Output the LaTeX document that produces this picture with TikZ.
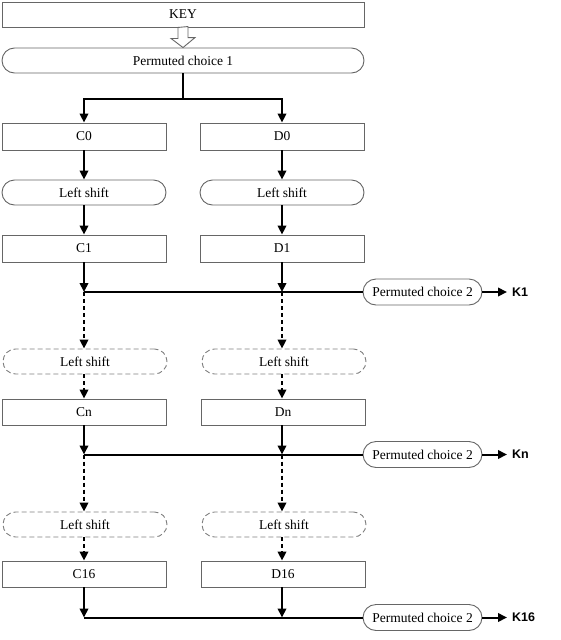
\documentclass[tikz,border=0pt]{standalone}
\usepackage{fontspec}
\setmainfont{Liberation Serif}
\newfontfamily\ksans{Liberation Sans}
\usetikzlibrary{arrows.meta}
\definecolor{boxgray}{HTML}{666666}
\definecolor{dashgray}{HTML}{808080}
\begin{document}
\begin{tikzpicture}[x=1pt,y=-1pt,
  box/.style={draw=boxgray, line width=0.9pt, fill=white, minimum width=164pt,
    minimum height=26pt, inner sep=0pt, font=\fontsize{13.5}{16}\selectfont},
  pill/.style={box, rounded corners=12.5pt},
  dpill/.style={pill, draw=dashgray, dash pattern=on 5pt off 3pt},
  pcb/.style={pill, minimum width=119pt, rounded corners=13pt},
  arr/.style={line width=2pt, -{Triangle[length=9pt,width=8.5pt]}},
  darr/.style={arr, dash pattern=on 4pt off 3pt},
  bus/.style={line width=2pt},
  hollow/.style={draw=boxgray, line width=0.9pt, fill=white, line join=miter},
  klab/.style={font=\ksans\bfseries\fontsize{12.5}{15}\selectfont, anchor=west,
    inner xsep=5pt, inner ysep=0pt}
]
\useasboundingbox (0,0) rectangle (561,640);

% top
\node[box, minimum width=362pt, minimum height=25pt] (key) at (183,14.5) {KEY};
\node[pill, minimum width=362pt, minimum height=25pt] (pc1) at (183,60.5) {Permuted choice 1};
\draw[hollow] (key.south) ++(-5,0) -- ++(0,11) -- ++(-7,0) -- (pc1.north)
  -- ++(12,-10) -- ++(-7,0) -- ++(0,-11) -- cycle;

% C / D column
\node[box, minimum height=27pt] (c0) at (84,136.5) {C0};
\node[box, minimum height=27pt] (d0) at (282,136.5) {D0};
\node[pill, minimum height=25pt] (ls1c) at (84,192.5) {Left shift};
\node[pill, minimum height=25pt] (ls1d) at (282,192.5) {Left shift};
\node[box, minimum height=27pt] (c1) at (84,248.5) {C1};
\node[box, minimum height=27pt] (d1) at (282,248.5) {D1};

\node[dpill, minimum height=25pt] (ls2c) at (85,361.5) {Left shift};
\node[dpill, minimum height=25pt] (ls2d) at (284,361.5) {Left shift};
\node[box] (cn) at (84,412) {Cn};
\node[box] (dn) at (283,412) {Dn};

\node[dpill, minimum height=25pt] (ls3c) at (85,524.5) {Left shift};
\node[dpill, minimum height=25pt] (ls3d) at (284,524.5) {Left shift};
\node[box] (c16) at (84,574) {C16};
\node[box] (d16) at (283,574) {D16};

% permuted choice 2 nodes
\node[pcb] (pa) at (422.5,292) {Permuted choice 2};
\node[pcb] (pb) at (422.5,454.5) {Permuted choice 2};
\node[pcb] (pc) at (422.5,617.5) {Permuted choice 2};
\node[klab] (k1) at (507,292) {K1};
\node[klab] (kn) at (507,454.5) {Kn};
\node[klab] (k16) at (507,617.5) {K16};

% junctions
\coordinate (j0) at (183,98.5);
\coordinate (jac) at (84,292);
\coordinate (jad) at (282,292);
\coordinate (jbc) at (84,454.5);
\coordinate (jbd) at (282,454.5);
\coordinate (jcc) at (84,617.5);
\coordinate (jcd) at (282,617.5);

% connectors
\draw[bus] (pc1.south) -- (j0);
\draw[arr] (j0) -| (c0.north);
\draw[arr] (j0) -| (d0.north);
\draw[arr] (c0.south) -- (ls1c.north);
\draw[arr] (d0.south) -- (ls1d.north);
\draw[arr] (ls1c.south) -- (c1.north);
\draw[arr] (ls1d.south) -- (d1.north);

\draw[arr] (c1.south) -- (jac);
\draw[arr] (d1.south) -- (jad);
\draw[bus] (jac) -- (pa.west);
\draw[arr] (pa.east) -- (k1.west);
\draw[darr] (jac) -- (jac |- ls2c.north);
\draw[darr] (jad) -- (jad |- ls2d.north);
\draw[darr] (ls2c.south -| jac) -- (jac |- cn.north);
\draw[darr] (ls2d.south -| jad) -- (jad |- dn.north);

\draw[arr] (jac |- cn.south) -- (jbc);
\draw[arr] (jad |- dn.south) -- (jbd);
\draw[bus] (jbc) -- (pb.west);
\draw[arr] (pb.east) -- (kn.west);
\draw[darr] (jbc) -- (jbc |- ls3c.north);
\draw[darr] (jbd) -- (jbd |- ls3d.north);
\draw[darr] (ls3c.south -| jbc) -- (jbc |- c16.north);
\draw[darr] (ls3d.south -| jbd) -- (jbd |- d16.north);

\draw[arr] (jbc |- c16.south) -- (jcc);
\draw[arr] (jbd |- d16.south) -- (jcd);
\draw[bus] (jcc) -- (pc.west);
\draw[arr] (pc.east) -- (k16.west);
\end{tikzpicture}
\end{document}
